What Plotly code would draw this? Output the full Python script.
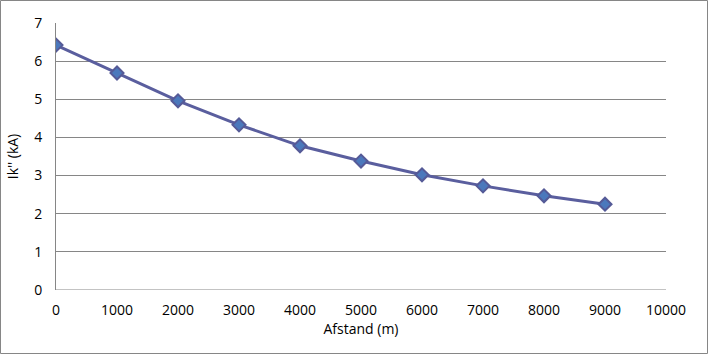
import plotly.graph_objects as go

distance = [0, 1000, 2000, 3000, 4000, 5000, 6000, 7000, 8000, 9000]
ik = [6.42, 5.69, 4.96, 4.33, 3.78, 3.38, 3.02, 2.73, 2.47, 2.25]
x_ticks = [0, 1000, 2000, 3000, 4000, 5000, 6000, 7000, 8000, 9000, 10000]
x_tick_labels = ["0", "1000", "2000", "3000", "4000", "5000", "6000", "7000", "8000", "9000", "10000"]

W, H = 708, 354
ml, mr, mt, mb = 56, 42, 23, 64
pw, ph = W - ml - mr, H - mt - mb

fig = go.Figure()
fig.add_trace(go.Scatter(
    x=distance, y=ik, mode="lines+markers",
    line=dict(color="#5A5E9E", width=3),
    marker=dict(symbol="diamond", size=10, color="#4B78BC",
                line=dict(color="#555A97", width=2)),
))

fig.update_layout(
    width=W, height=H,
    margin=dict(l=ml, r=mr, t=mt, b=mb, pad=0),
    paper_bgcolor="white", plot_bgcolor="white",
    showlegend=False,
    font=dict(family="Open Sans, Liberation Sans, sans-serif", size=14, color="#000"),
    xaxis=dict(range=[0, 10000], tickvals=x_ticks, ticktext=x_tick_labels,
               showgrid=False, zeroline=False, showline=False,
               ticks="", ticklen=0, ticklabelstandoff=10,
               title=dict(text="Afstand (m)", standoff=4, font=dict(size=14))),
    yaxis=dict(range=[0, 7], dtick=1, showgrid=True, gridcolor="#868686",
               gridwidth=1, zeroline=False, showline=True, linecolor="#868686",
               linewidth=1, ticks="", ticklabelstandoff=10,
               title=dict(text="Ik'' (kA)", standoff=12, font=dict(size=14))),
    shapes=[dict(type="rect", xref="paper", yref="paper",
                 x0=-(ml - 0.5) / pw, x1=1 + (mr - 0.5) / pw,
                 y0=-(mb - 0.5) / ph, y1=1 + (mt - 0.5) / ph,
                 line=dict(color="#868686", width=1), layer="below")],
)
fig.add_shape(type="line", xref="x", yref="y", x0=0, x1=10000, y0=0, y1=0,
              line=dict(color="#868686", width=1), layer="below")

fig.write_html("out.html")
